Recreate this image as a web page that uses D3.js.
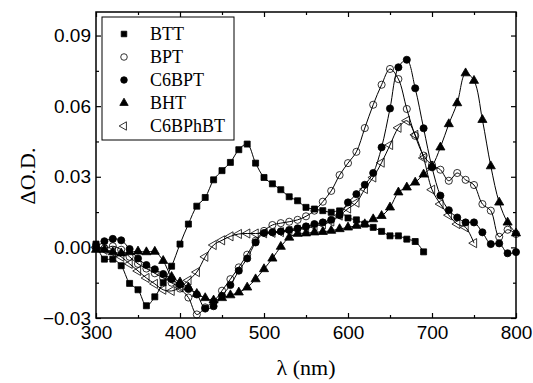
<!DOCTYPE html>
<html>
<head>
<meta charset="utf-8">
<script src="https://cdn.jsdelivr.net/npm/d3@7"></script>
<style>
  body { margin: 0; background: #fff; }
  svg { display: block; }
</style>
</head>
<body>
<div id="chart"></div>
<script>
// wavelengths (nm), shared by all series
const lambda = [300,310,320,330,340,350,360,370,380,390,400,410,420,430,440,450,460,470,480,490,
  500,510,520,530,540,550,560,570,580,590,600,610,620,630,640,650,660,670,680,690,
  700,710,720,730,740,750,760,770,780,790,800];

// delta O.D. values
const btt = [0.0014,-0.005,-0.005,-0.0078,-0.0153,-0.018,-0.0248,-0.021,-0.015,-0.008,
  0.0014,0.0099,0.0175,0.0212,0.0287,0.0326,0.0361,0.0415,0.0439,0.0358,
  0.0297,0.027,0.0245,0.0215,0.0198,0.017,0.0163,0.0156,0.0149,0.0155,
  0.0125,0.0117,0.0099,0.0085,0.0068,0.0049,0.0049,0.0035,0.0025,-0.0019];
const bpt = [0.001,-0.0005,0.0005,-0.001,-0.004,-0.007,-0.009,-0.011,-0.013,-0.015,
  -0.0175,-0.0213,-0.0285,-0.0255,-0.023,-0.0184,-0.0135,-0.0085,-0.0031,0.0028,
  0.007,0.0095,0.0103,0.0109,0.0117,0.0132,0.0156,0.0194,0.024,0.0307,
  0.0358,0.0406,0.0507,0.0606,0.0691,0.0758,0.0715,0.0588,0.0474,0.039,
  0.035,0.033,0.0283,0.0316,0.0287,0.0265,0.0184,0.0156,0.0045,0.0075,0.0057];
const c6bpt = [-0.0003,0.0026,0.0036,0.003,-0.0007,-0.0047,-0.0075,-0.0093,-0.0113,-0.0135,
  -0.0158,-0.0177,-0.02,-0.026,-0.025,-0.0206,-0.016,-0.0099,-0.0047,0.0021,
  0.0061,0.0064,0.0068,0.0074,0.0081,0.0089,0.0099,0.0106,0.0117,0.0137,
  0.0191,0.0226,0.0266,0.0316,0.0425,0.059,0.0765,0.0797,0.0676,0.0506,
  0.034,0.022,0.0158,0.0127,0.0106,0.0106,0.0064,0.0014,0.0017,-0.0025,-0.002];
const bht = [-0.001,-0.001,-0.002,-0.0025,-0.002,-0.0017,-0.002,-0.0018,-0.0057,-0.0125,
  -0.0148,-0.017,-0.0197,-0.0215,-0.0225,-0.0215,-0.0203,-0.0191,-0.017,-0.0135,
  -0.0092,-0.0047,0.0003,0.0042,0.0058,0.006,0.0064,0.0066,0.0071,0.0078,
  0.0085,0.0092,0.0099,0.012,0.0134,0.017,0.0234,0.0255,0.0276,0.031,
  0.0345,0.0425,0.0524,0.0613,0.074,0.0708,0.0542,0.0345,0.0191,0.0106,0.006];
const c6bphbt = [0.0,-0.001,-0.002,-0.004,-0.007,-0.01,-0.013,-0.0155,-0.018,-0.0185,
  -0.017,-0.014,-0.0105,-0.004,0.001,0.003,0.0047,0.0057,0.0059,0.0059,
  0.006,0.0062,0.0065,0.007,0.0075,0.0082,0.009,0.0098,0.011,0.0135,
  0.0165,0.019,0.0248,0.0297,0.036,0.0435,0.0508,0.0538,0.0478,0.038,
  0.0245,0.0184,0.0137,0.0099,0.0085,0.0018];

const seriesNames = ["BTT", "BPT", "C6BPT", "BHT", "C6BPhBT"];
const xTicks = [300, 400, 500, 600, 700, 800];
const yTicks = [-0.03, 0.00, 0.03, 0.06, 0.09];

const width = 533, height = 383;
const margin = { top: 12, right: 17, bottom: 65, left: 96 };
const w = width - margin.left - margin.right;
const h = height - margin.top - margin.bottom;

const sansFont = "font-family:'Liberation Sans', Arial, sans-serif;";
const serifFont = "font-family:'Liberation Serif', 'Times New Roman', serif;";

const svg = d3.select("#chart").append("svg")
  .attr("width", width)
  .attr("height", height);
const g = svg.append("g").attr("transform", `translate(${margin.left},${margin.top})`);

const x = d3.scaleLinear().domain([300, 800]).range([0, w]);
const y = d3.scaleLinear().domain([-0.03, 0.1]).range([h, 0]);

// minor ticks
const xMinor = [350, 450, 550, 650, 750];
const yMinor = [-0.015, 0.015, 0.045, 0.075];

function styleAxis(sel) {
  sel.attr("font-family", null).attr("font-size", null);
  sel.select(".domain").remove();
  sel.selectAll("line").attr("stroke", "#000").attr("stroke-width", 1.2);
  sel.selectAll("text").attr("style", sansFont + "font-size:19px;").attr("fill", "#000");
}

// bottom
g.append("g").attr("transform", `translate(0,${h})`)
  .call(d3.axisBottom(x).tickValues(xTicks).tickSize(-5).tickPadding(8).tickFormat(d3.format("d")))
  .call(styleAxis);
g.append("g").attr("transform", `translate(0,${h})`)
  .call(d3.axisBottom(x).tickValues(xMinor).tickSize(-3).tickFormat(""))
  .call(styleAxis);
// top
g.append("g")
  .call(d3.axisTop(x).tickValues(xTicks).tickSize(-5).tickFormat(""))
  .call(styleAxis);
g.append("g")
  .call(d3.axisTop(x).tickValues(xMinor).tickSize(-3).tickFormat(""))
  .call(styleAxis);
// left
g.append("g")
  .call(d3.axisLeft(y).tickValues(yTicks).tickSize(-5).tickPadding(5).tickFormat(d3.format(".2f")))
  .call(styleAxis);
g.append("g")
  .call(d3.axisLeft(y).tickValues(yMinor).tickSize(-3).tickFormat(""))
  .call(styleAxis);
// right
g.append("g").attr("transform", `translate(${w},0)`)
  .call(d3.axisRight(y).tickValues(yTicks).tickSize(-5).tickFormat(""))
  .call(styleAxis);
g.append("g").attr("transform", `translate(${w},0)`)
  .call(d3.axisRight(y).tickValues(yMinor).tickSize(-3).tickFormat(""))
  .call(styleAxis);

// frame
g.append("rect")
  .attr("width", w).attr("height", h)
  .attr("fill", "none").attr("stroke", "#000").attr("stroke-width", 1.5);

// symbols
const sym = {
  BTT:     { type: d3.symbolSquare,   size: 36, fill: "#000", rot: 0 },
  BPT:     { type: d3.symbolCircle,   size: 40, fill: "none", rot: 0 },
  C6BPT:   { type: d3.symbolCircle,   size: 40, fill: "#000", rot: 0 },
  BHT:     { type: d3.symbolTriangle, size: 36, fill: "#000", rot: 0 },
  C6BPhBT: { type: d3.symbolTriangle, size: 36, fill: "none", rot: -90 }
};

const allValues = { BTT: btt, BPT: bpt, C6BPT: c6bpt, BHT: bht, C6BPhBT: c6bphbt };

const line = d3.line()
  .x(d => x(d[0]))
  .y(d => y(d[1]))
  .curve(d3.curveCatmullRom.alpha(0.5));

const plot = g.append("g");

seriesNames.forEach(name => {
  const vals = allValues[name];
  const pts = vals.map((v, i) => [lambda[i], v]);
  const s = sym[name];

  plot.append("path")
    .datum(pts)
    .attr("d", line)
    .attr("fill", "none")
    .attr("stroke", "#000")
    .attr("stroke-width", 1);

  plot.selectAll(null)
    .data(pts)
    .enter()
    .append("path")
    .attr("d", d3.symbol().type(s.type).size(s.size))
    .attr("transform", d => `translate(${x(d[0])},${y(d[1])}) rotate(${s.rot})`)
    .attr("fill", s.fill)
    .attr("stroke", "#000")
    .attr("stroke-width", 0.8);
});

// legend
const legend = g.append("g").attr("transform", `translate(${102 - margin.left},${17 - margin.top})`);
legend.append("rect")
  .attr("width", 132).attr("height", 123)
  .attr("fill", "#fff").attr("stroke", "#000").attr("stroke-width", 1);

const legendY = [17, 40, 63, 86, 109];
seriesNames.forEach((name, i) => {
  const s = sym[name];
  legend.append("path")
    .attr("d", d3.symbol().type(s.type).size(s.size * 0.85))
    .attr("transform", `translate(22,${legendY[i]}) rotate(${s.rot})`)
    .attr("fill", s.fill)
    .attr("stroke", "#000")
    .attr("stroke-width", 0.8);
  legend.append("text")
    .attr("x", 48)
    .attr("y", legendY[i])
    .attr("dy", "0.35em")
    .attr("style", serifFont + "font-size:18px;")
    .text(name);
});

// axis titles
svg.append("text")
  .attr("x", margin.left + w / 2)
  .attr("y", 375)
  .attr("text-anchor", "middle")
  .attr("style", serifFont + "font-size:22px;")
  .text("λ (nm)");

svg.append("text")
  .attr("transform", "translate(35,176) rotate(-90)")
  .attr("text-anchor", "middle")
  .attr("style", serifFont + "font-size:22px;")
  .text("ΔO.D.");
</script>
</body>
</html>
